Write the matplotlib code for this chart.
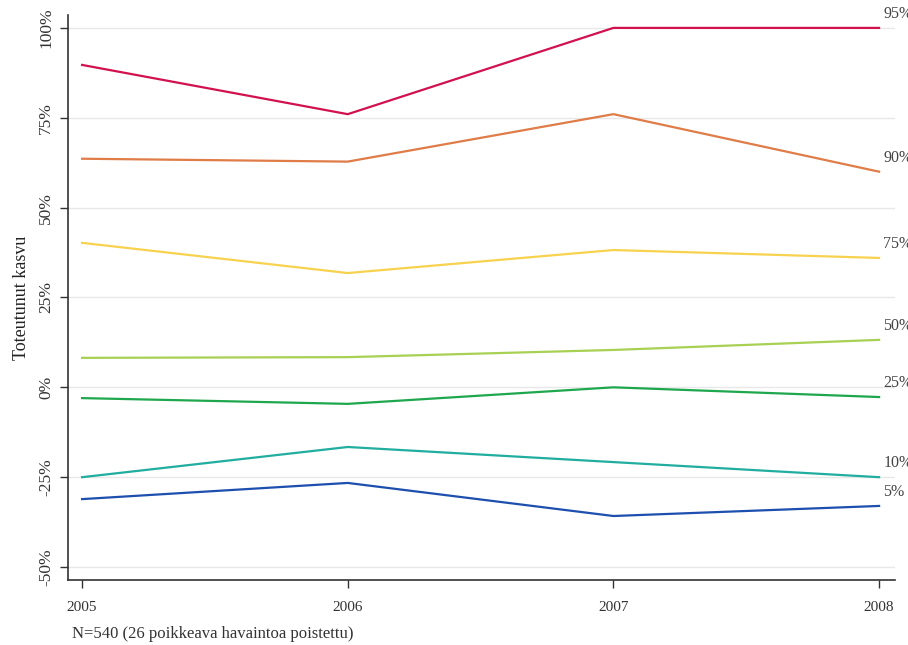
import matplotlib.pyplot as plt
from matplotlib.ticker import FuncFormatter

YEARS = [2005, 2006, 2007, 2008]
PERCENTILES = ["95%", "90%", "75%", "50%", "25%", "10%", "5%"]
P95 = [89.7, 76.0, 100.0, 100.0]
P90 = [63.6, 62.8, 76.0, 60.0]
P75 = [40.2, 31.8, 38.2, 36.0]
P50 = [8.2, 8.4, 10.4, 13.2]
P25 = [-3.0, -4.6, 0.0, -2.7]
P10 = [-25.0, -16.6, -20.8, -25.0]
P05 = [-31.1, -26.6, -35.8, -33.0]
COLORS = ["#d2114f", "#df7c47", "#f7d24e", "#a8d053", "#1ea74c", "#21ad9f", "#1d4fae"]
Y_TICKS = [-50, -25, 0, 25, 50, 75, 100]

plt.rcParams["font.family"] = ["Liberation Serif", "DejaVu Serif"]

fig = plt.figure(figsize=(9.08, 6.45), dpi=100)
ax = fig.add_axes([0.0749, 0.1008, 0.9108, 0.876])

series = [P95, P90, P75, P50, P25, P10, P05]
for label, values, color in zip(PERCENTILES, series, COLORS):
    ax.plot(YEARS, values, color=color, lw=1.6, zorder=3)
    # the labels run past the right edge, as in the original
    ax.annotate(label, (YEARS[-1], values[-1]), xytext=(3, 10),
                textcoords="offset points", fontsize=11.5, color="#444444",
                va="center", ha="left", annotation_clip=False)

ax.set_xlim(2004.947, 2008.06)
ax.set_ylim(-53.6, 103.6)
ax.set_xticks(YEARS)
ax.set_yticks(Y_TICKS)
ax.yaxis.set_major_formatter(FuncFormatter(lambda v, p: f"{v:.0f}%"))
ax.tick_params(axis="both", colors="#333333", length=6, width=1)
ax.tick_params(axis="x", labelsize=11, pad=9)
ax.tick_params(axis="y", labelsize=12.5, pad=4)
for t in ax.get_yticklabels():
    t.set_rotation(90)
    t.set_va("center")
ax.grid(axis="y", color="#e8e8e8", lw=1, zorder=0)
for side in ["top", "right"]:
    ax.spines[side].set_visible(False)
for side in ["left", "bottom"]:
    ax.spines[side].set_color("#333333")
    ax.spines[side].set_linewidth(1.2)

ax.set_ylabel("Toteutunut kasvu", fontsize=13, color="#222222", labelpad=6)
fig.text(0.079, 0.005, "N=540 (26 poikkeava havaintoa poistettu)", fontsize=12,
         color="#333333", ha="left", va="bottom")

fig.savefig("out.png", dpi=100)
